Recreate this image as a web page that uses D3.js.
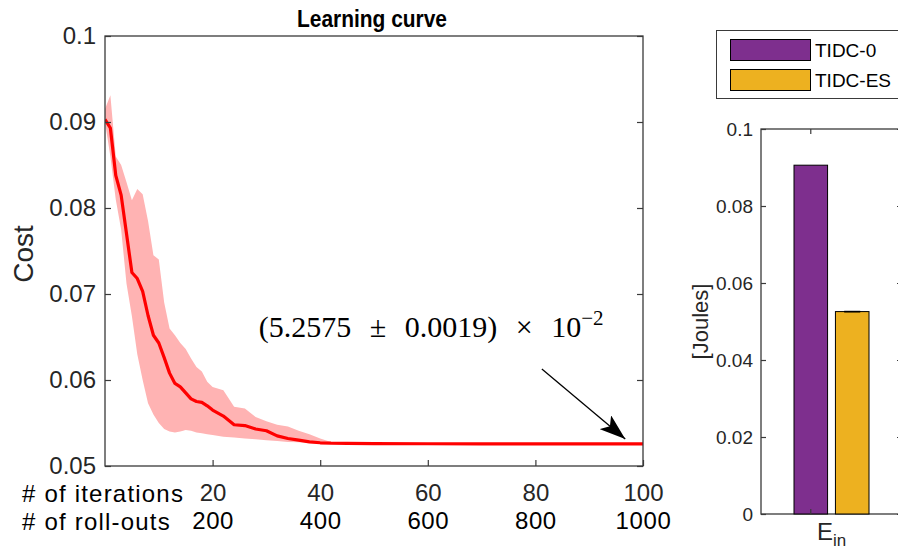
<!DOCTYPE html>
<html>
<head>
<meta charset="utf-8">
<script src="https://cdn.jsdelivr.net/npm/d3@7"></script>
<style>
  html, body { margin: 0; padding: 0; background: #fff; }
  svg { display: block; }
  text { font-family: "Liberation Sans", Arial, Helvetica, sans-serif; }
</style>
</head>
<body>
<svg id="fig" width="898" height="553"></svg>
<script>
// ---- learning curve data (cost per iteration) ----
const iterations = [0, 1, 2, 3, 4, 5, 6, 7, 8, 9, 10, 11, 12, 13, 14, 15, 16, 17, 18, 19, 20,
  22, 24, 26, 28, 30, 32, 34, 36, 38, 40, 42, 45, 50, 60, 70, 80, 90, 100];
const costMean = [0.0903, 0.0893, 0.0838, 0.0815, 0.0770, 0.0725, 0.0718, 0.0703, 0.0675, 0.0652,
  0.0643, 0.0626, 0.0608, 0.0596, 0.0592, 0.0585, 0.0578, 0.0575, 0.0574, 0.0570, 0.0565,
  0.0558, 0.0548, 0.0547, 0.0543, 0.0541, 0.0535, 0.0532, 0.0530, 0.0528, 0.0527, 0.05265,
  0.05262, 0.0526, 0.05259, 0.05258, 0.05258, 0.052575, 0.052575];
const costUpper = [0.0915, 0.0931, 0.0860, 0.0850, 0.0830, 0.0809, 0.0822, 0.0816, 0.0785, 0.0745,
  0.0740, 0.0690, 0.0660, 0.0652, 0.0643, 0.0636, 0.0625, 0.0615, 0.0610, 0.0598, 0.0592,
  0.0588, 0.0569, 0.0567, 0.0557, 0.0552, 0.0548, 0.0546, 0.0541, 0.0537, 0.0532, 0.0528,
  0.05268, 0.05262, 0.05261, 0.05259, 0.05259, 0.052594, 0.052594];
const costLower = [0.0900, 0.0860, 0.0810, 0.0775, 0.0712, 0.0674, 0.0630, 0.0600, 0.0573, 0.0560,
  0.0550, 0.0543, 0.0540, 0.0539, 0.0540, 0.0542, 0.0541, 0.0539, 0.0538, 0.0537, 0.0536,
  0.0534, 0.0533, 0.0532, 0.0531, 0.0530, 0.0529, 0.0528, 0.05275, 0.0527, 0.05265, 0.05262,
  0.0526, 0.05258, 0.05257, 0.05257, 0.05257, 0.052556, 0.052556];

const costTicks = [0.05, 0.06, 0.07, 0.08, 0.09, 0.1];
const costTickLabels = ["0.05", "0.06", "0.07", "0.08", "0.09", "0.1"];
const iterTicks = [20, 40, 60, 80, 100];
const iterTickLabels = ["20", "40", "60", "80", "100"];
const rolloutTickLabels = ["200", "400", "600", "800", "1000"];

// ---- energy bar data ----
const energyCategories = ["E_in"];
const energySeries = ["TIDC-0", "TIDC-ES"];
const energyValues = [0.0906, 0.052575];
const energyErrors = [0, 0.000019];
const energyColors = ["#7E2F8E", "#EDB120"];
const energyTicks = [0, 0.02, 0.04, 0.06, 0.08, 0.1];
const energyTickLabels = ["0", "0.02", "0.04", "0.06", "0.08", "0.1"];

const AXIS = "#262626";
const FRAME = "#3a3a3a";
const svg = d3.select("#fig");

// =================== learning curve panel ===================
const L = { left: 105, right: 643, top: 36, bottom: 466 };
const x = d3.scaleLinear().domain([0, 100]).range([L.left, L.right]);
const y = d3.scaleLinear().domain([0.05, 0.1]).range([L.bottom, L.top]);

const curve = iterations.map((it, i) => ({ it, m: costMean[i], lo: costLower[i], hi: costUpper[i] }));

svg.append("clipPath").attr("id", "lcClip")
  .append("rect").attr("x", L.left).attr("y", L.top)
  .attr("width", L.right - L.left).attr("height", L.bottom - L.top);

const plot = svg.append("g").attr("clip-path", "url(#lcClip)");
plot.append("path")
  .datum(curve)
  .attr("fill", "#ffb3b3")
  .attr("d", d3.area().x(d => x(d.it)).y0(d => y(d.lo)).y1(d => y(d.hi)));
plot.append("path")
  .datum(curve)
  .attr("fill", "none")
  .attr("stroke", "#ff0000")
  .attr("stroke-width", 3.2)
  .attr("stroke-linejoin", "round")
  .attr("d", d3.line().x(d => x(d.it)).y(d => y(d.m)));

// frame
svg.append("rect")
  .attr("x", L.left).attr("y", L.top)
  .attr("width", L.right - L.left).attr("height", L.bottom - L.top)
  .attr("fill", "none").attr("stroke", FRAME).attr("stroke-width", 1.3);

function styleAxis(g, fontSize, color) {
  g.select(".domain").remove();
  g.selectAll(".tick line").attr("stroke", FRAME).attr("stroke-width", 1.2);
  g.selectAll(".tick text")
    .attr("fill", color)
    .style("font-size", fontSize + "px")
    .style("font-family", "'Liberation Sans', Arial, sans-serif");
}

// y axes (ticks point inward)
svg.append("g").attr("transform", `translate(${L.left},0)`)
  .call(d3.axisLeft(y).tickValues(costTicks).tickSize(-6).tickPadding(9)
    .tickFormat((d, i) => costTickLabels[i]))
  .call(g => styleAxis(g, 24, AXIS));
svg.append("g").attr("transform", `translate(${L.right},0)`)
  .call(d3.axisRight(y).tickValues(costTicks).tickSize(-6).tickFormat(""))
  .call(g => styleAxis(g, 24, AXIS));

// x axes: iterations row and roll-outs row
svg.append("g").attr("transform", `translate(0,${L.bottom})`)
  .call(d3.axisBottom(x).tickValues(iterTicks).tickSize(-6).tickPadding(18)
    .tickFormat((d, i) => iterTickLabels[i]))
  .call(g => styleAxis(g, 24, AXIS));
svg.append("g").attr("transform", `translate(0,${L.bottom + 28})`)
  .call(d3.axisBottom(x).tickValues(iterTicks).tickSize(0).tickPadding(18)
    .tickFormat((d, i) => rolloutTickLabels[i]))
  .call(g => styleAxis(g, 24, "#000"))
  .call(g => g.selectAll(".tick text").style("letter-spacing", "0.6px"));

// row captions
svg.append("text").attr("x", 22).attr("y", 502).attr("fill", "#000")
  .style("font-size", "24px").style("letter-spacing", "1.2px").text("# of iterations");
svg.append("text").attr("x", 22).attr("y", 530).attr("fill", "#000")
  .style("font-size", "24px").style("letter-spacing", "1.2px").text("# of roll-outs");

// y label
svg.append("text")
  .attr("transform", `translate(33,${(L.top + L.bottom) / 2 + 3}) rotate(-90)`)
  .attr("text-anchor", "middle").attr("fill", AXIS)
  .style("font-size", "28px").text("Cost");

// title
svg.append("text").attr("x", (L.left + L.right) / 2 - 2).attr("y", 27)
  .attr("text-anchor", "middle").attr("fill", "#000")
  .attr("textLength", 150).attr("lengthAdjust", "spacingAndGlyphs")
  .style("font-size", "23px").style("font-weight", "bold").text("Learning curve");

// final-value annotation
const note = svg.append("text")
  .attr("x", x(28.6)).attr("y", y(0.06504))
  .style("font-family", "'Liberation Serif', 'DejaVu Serif', serif")
  .style("font-size", "30px").style("word-spacing", "11px").attr("fill", "#000");
note.append("tspan").text("(5.2575 \u00b1 0.0019) \u00d7 10");
note.append("tspan").attr("dy", -12).style("font-size", "21px").text("\u22122");

const defs = svg.append("defs");
defs.append("marker").attr("id", "head")
  .attr("viewBox", "0 0 26 18").attr("refX", 26).attr("refY", 9)
  .attr("markerWidth", 26).attr("markerHeight", 18)
  .attr("markerUnits", "userSpaceOnUse").attr("orient", "auto")
  .append("path").attr("d", "M0,0 L26,9 L0,18 L6,9 Z").attr("fill", "#000");
svg.append("line")
  .attr("x1", x(81.2)).attr("y1", y(0.06128))
  .attr("x2", x(96.7)).attr("y2", y(0.05314))
  .attr("stroke", "#000").attr("stroke-width", 1.3)
  .attr("marker-end", "url(#head)");

// =================== energy bar panel ===================
const B = { left: 761, right: 902, top: 129, bottom: 514 };
const yB = d3.scaleLinear().domain([0, 0.1]).range([B.bottom, B.top]);
const xB = d3.scaleBand().domain(energyCategories).range([B.left, B.right])
  .paddingInner(0).paddingOuter(0.44);
const xS = d3.scaleBand().domain(energySeries).range([0, xB.bandwidth()]).paddingInner(0.19);

svg.append("rect")
  .attr("x", B.left).attr("y", B.top)
  .attr("width", B.right - B.left).attr("height", B.bottom - B.top)
  .attr("fill", "none").attr("stroke", FRAME).attr("stroke-width", 1.3);

const bars = svg.append("g");
energySeries.forEach((s, i) => {
  const bx = xB(energyCategories[0]) + xS(s);
  bars.append("rect")
    .attr("x", bx).attr("y", yB(energyValues[i]))
    .attr("width", xS.bandwidth()).attr("height", yB(0) - yB(energyValues[i]))
    .attr("fill", energyColors[i]).attr("stroke", "#000").attr("stroke-width", 1);
  if (energyErrors[i] > 0) {
    const cx = bx + xS.bandwidth() / 2;
    const eg = bars.append("g").attr("stroke", "#000").attr("stroke-width", 1.4);
    eg.append("line").attr("x1", cx).attr("x2", cx)
      .attr("y1", yB(energyValues[i] - energyErrors[i])).attr("y2", yB(energyValues[i] + energyErrors[i]));
    [energyValues[i] - energyErrors[i], energyValues[i] + energyErrors[i]].forEach(v => {
      eg.append("line").attr("x1", cx - 8).attr("x2", cx + 8).attr("y1", yB(v)).attr("y2", yB(v));
    });
  }
});

svg.append("g").attr("transform", `translate(${B.left},0)`)
  .call(d3.axisLeft(yB).tickValues(energyTicks).tickSize(-5).tickPadding(8)
    .tickFormat((d, i) => energyTickLabels[i]))
  .call(g => styleAxis(g, 19, AXIS));
svg.append("g").attr("transform", `translate(${B.right},0)`)
  .call(d3.axisRight(yB).tickValues(energyTicks).tickSize(-5).tickFormat(""))
  .call(g => styleAxis(g, 19, AXIS));

// category tick at the first bar of the group, label centred under the group
const tickX = xB(energyCategories[0]) + xS(energySeries[0]) + xS.bandwidth() / 2;
[[B.bottom, B.bottom - 5], [B.top, B.top + 5]].forEach(([a, b]) => {
  svg.append("line").attr("x1", tickX).attr("x2", tickX).attr("y1", a).attr("y2", b)
    .attr("stroke", FRAME).attr("stroke-width", 1.2);
});
const cat = svg.append("text")
  .attr("x", xB(energyCategories[0]) + xB.bandwidth() / 2).attr("y", 540)
  .attr("text-anchor", "middle").attr("fill", AXIS).style("font-size", "24px");
cat.append("tspan").text("E");
cat.append("tspan").attr("dy", 6).style("font-size", "17px").text("in");

svg.append("text")
  .attr("transform", `translate(708,${(B.top + B.bottom) / 2}) rotate(-90)`)
  .attr("text-anchor", "middle").attr("fill", AXIS)
  .style("font-size", "22px").text("[Joules]");

// legend
const lg = svg.append("g");
lg.append("rect").attr("x", 716.5).attr("y", 30.5).attr("width", 200).attr("height", 68)
  .attr("fill", "#fff").attr("stroke", FRAME).attr("stroke-width", 1);
energySeries.forEach((s, i) => {
  lg.append("rect").attr("x", 730.5).attr("y", 39.5 + i * 30).attr("width", 80).attr("height", 21)
    .attr("fill", energyColors[i]).attr("stroke", "#000").attr("stroke-width", 1);
  lg.append("text").attr("x", 815).attr("y", 50 + i * 30).attr("dominant-baseline", "central")
    .attr("fill", "#000").style("font-size", "19px").text(s);
});
</script>
</body>
</html>
